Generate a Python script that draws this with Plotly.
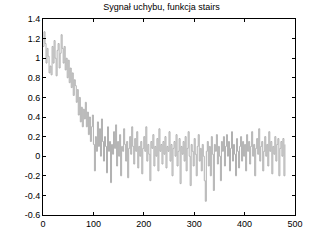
import plotly.graph_objects as go

title = "Sygnał uchybu, funkcja stairs"
step = 2
values = [
    1.12, 1.27, 1.15, 0.95, 1.1, 1.02, 0.85, 0.92, 0.83, 1.12, 0.95, 1.18, 1.0, 0.82, 1.08, 1.15, 0.9, 1.05, 1.24, 1.1,
    0.95, 1.12, 0.88, 1.0, 0.8, 0.98, 0.75, 0.9, 0.7, 0.85, 0.62, 0.78, 0.72, 0.55, 0.68, 0.42, 0.6, 0.35, 0.5, 0.3,
    0.48, 0.38, 0.55, 0.3, 0.45, 0.22, 0.4, 0.15, 0.3, 0.42, 0.12, -0.15, 0.2, 0.05, 0.35, 0.1, 0.28, 0.0, 0.38, 0.15,
    -0.05, 0.2, 0.1, -0.17, 0.3, 0.05, 0.15, -0.27, 0.12, 0.02, 0.25, 0.08, 0.32, -0.1, 0.15, 0.0, 0.22, -0.2, 0.1, 0.05,
    0.28, 0.12, -0.05, 0.15, -0.22, 0.08, 0.2, 0.02, 0.3, 0.1, -0.08, 0.18, 0.05, 0.25, -0.12, 0.1, 0.0, 0.15, -0.18, 0.08,
    0.2, 0.05, 0.3, -0.05, 0.12, 0.02, -0.25, 0.15, 0.08, 0.22, -0.1, 0.1, 0.0, 0.18, -0.15, 0.28, 0.05, 0.12, -0.08, 0.15,
    0.02, 0.2, -0.12, 0.1, 0.05, 0.25, -0.05, 0.12, -0.2, 0.08, 0.15, 0.0, 0.22, -0.1, 0.05, 0.18, -0.28, 0.1, 0.02, 0.15,
    -0.05, 0.2, -0.15, 0.08, 0.25, 0.0, -0.3, 0.12, 0.05, -0.1, 0.18, 0.02, -0.2, 0.1, 0.22, -0.05, 0.08, -0.15, 0.12, 0.0,
    -0.25, -0.46, 0.05, 0.15, -0.1, 0.1, -0.2, 0.2, 0.02, -0.35, 0.12, 0.05, 0.22, -0.08, 0.1, 0.0, -0.25, 0.15, 0.05, 0.2,
    -0.1, 0.1, 0.22, 0.0, 0.15, -0.15, 0.08, 0.25, -0.05, 0.12, 0.02, -0.2, 0.18, 0.05, -0.12, 0.1, 0.2, -0.05, 0.15, 0.0,
    0.12, -0.15, 0.22, 0.05, 0.15, -0.08, 0.1, 0.25, 0.0, 0.12, -0.2, 0.08, 0.18, 0.02, 0.28, -0.05, 0.1, 0.15, -0.15, 0.05,
    0.2, 0.0, 0.12, -0.1, 0.25, 0.05, 0.15, -0.18, 0.1, 0.02, 0.2, -0.05, 0.12, 0.18, -0.2, 0.08, 0.15, 0.0, 0.18, -0.2,
    0.12,
]
samples = [i * step for i in range(len(values))]

x_ticks = [0, 100, 200, 300, 400, 500]
y_ticks = [-0.6, -0.4, -0.2, 0, 0.2, 0.4, 0.6, 0.8, 1, 1.2, 1.4]
y_ticktext = ["-0.6", "-0.4", "-0.2", "0", "0.2", "0.4", "0.6", "0.8", "1", "1.2", "1.4"]

fig = go.Figure()
fig.add_trace(go.Scatter(
    x=samples, y=values, mode="lines",
    line=dict(color="#b0b0b0", width=1, shape="hv"),
    showlegend=False,
))

font = dict(family="Liberation Sans, Arial, sans-serif", size=9, color="black")
axis_common = dict(
    showgrid=False, zeroline=False, showline=True, linecolor="black", linewidth=1,
    mirror="allticks", ticks="inside", ticklen=3, tickcolor="black", tickfont=font,
)
fig.update_layout(
    width=323, height=241,
    margin=dict(l=43, r=28, t=19, b=24),
    paper_bgcolor="white", plot_bgcolor="white",
    title=dict(text=title, x=0.5, xanchor="center", y=0.985, yanchor="top",
               font=dict(family="Liberation Sans, Arial, sans-serif", size=9, color="black")),
    xaxis=dict(range=[0, 500], tickvals=x_ticks, **axis_common),
    yaxis=dict(range=[-0.6, 1.4], tickvals=y_ticks, ticktext=y_ticktext, **axis_common),
)
fig.write_html("out.html")
